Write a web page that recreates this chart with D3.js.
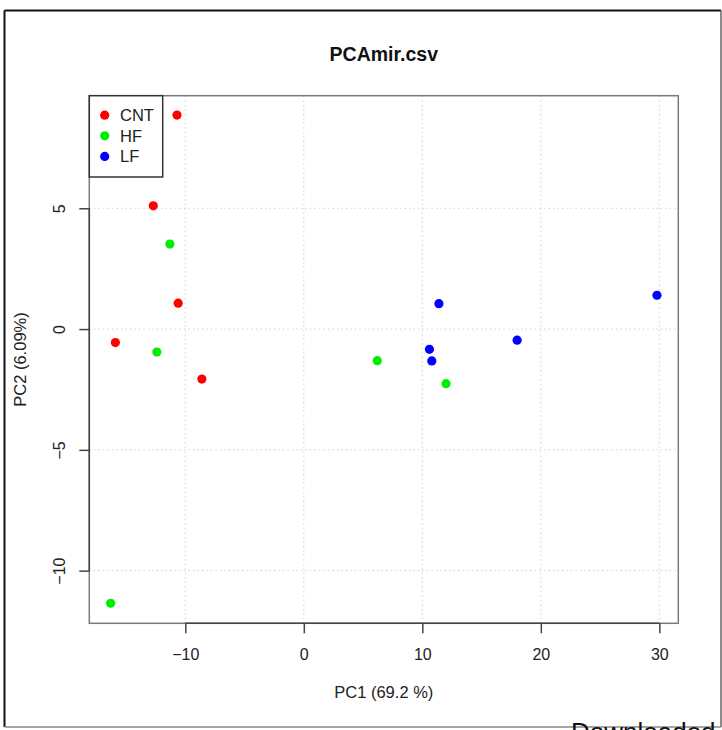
<!DOCTYPE html>
<html>
<head>
<meta charset="utf-8">
<script src="https://cdn.jsdelivr.net/npm/d3@7"></script>
<style>
  body { margin: 0; background: #fff; }
  svg text { font-family: "Liberation Sans", Arial, sans-serif; }
</style>
</head>
<body>
<div id="chart"></div>
<script>
// PCA scores, one array per group
var groups   = ['CNT', 'HF', 'LF'],
    colours  = ['#ff0000', '#00ee00', '#0000ff'];

var cntPC1 = [-10.7, -12.7, -10.6, -15.9, -8.6],
    cntPC2 = [8.86, 5.10, 1.07, -0.56, -2.07];

var hfPC1  = [-11.3, -12.4, 6.2, 12.0, -16.3],
    hfPC2  = [3.52, -0.95, -1.31, -2.26, -11.35];

var lfPC1  = [11.4, 29.8, 18.0, 10.6, 10.8],
    lfPC2  = [1.05, 1.40, -0.46, -0.84, -1.32];

var xTicks = [-10, 0, 10, 20, 30],
    yTicks = [-10, -5, 0, 5];

var title  = 'PCAmir.csv',
    xTitle = 'PC1 (69.2 %)',
    yTitle = 'PC2 (6.09%)';

var width  = 722,
    height = 730,
    box    = {left: 89.3, top: 95.7, right: 678.3, bottom: 623.3};

var svg = d3.select('#chart')
	.append('svg')
	.attr('width', width)
	.attr('height', height);

// outer frame of the figure
svg.append('line').attr('x1', 4.5).attr('x2', 4.5).attr('y1', 10.5).attr('y2', 727)
	.attr('stroke', '#111').attr('stroke-width', 2);
svg.append('line').attr('x1', 4.5).attr('x2', 721).attr('y1', 10.5).attr('y2', 10.5)
	.attr('stroke', '#111').attr('stroke-width', 2);
svg.append('line').attr('x1', 721).attr('x2', 721).attr('y1', 10.5).attr('y2', 727)
	.attr('stroke', '#666').attr('stroke-width', 1.5);
svg.append('line').attr('x1', 4.5).attr('x2', 721).attr('y1', 727).attr('y2', 727)
	.attr('stroke', '#888').attr('stroke-width', 1.5);

var x = d3.scaleLinear()
	.domain([-18.1, 31.6])
	.range([box.left, box.right]);

var y = d3.scaleLinear()
	.domain([-12.18, 9.66])
	.range([box.bottom, box.top]);

// dotted grid
var grid = svg.append('g')
	.attr('stroke', '#cfcfcf')
	.attr('stroke-width', 1)
	.attr('stroke-dasharray', '1.5,3');

grid.selectAll('line.v')
	.data(xTicks)
	.enter()
	.append('line')
	.attr('x1', function(d){ return x(d); })
	.attr('x2', function(d){ return x(d); })
	.attr('y1', box.top)
	.attr('y2', box.bottom);

grid.selectAll('line.h')
	.data(yTicks)
	.enter()
	.append('line')
	.attr('x1', box.left)
	.attr('x2', box.right)
	.attr('y1', function(d){ return y(d); })
	.attr('y2', function(d){ return y(d); });

// plot box
svg.append('rect')
	.attr('x', box.left)
	.attr('y', box.top)
	.attr('width', box.right - box.left)
	.attr('height', box.bottom - box.top)
	.attr('fill', 'none')
	.attr('stroke', '#7a7a7a')
	.attr('stroke-width', 1.5);

// axes, R style: line only between first and last tick
var xAxis = svg.append('g')
	.attr('transform', 'translate(0,' + box.bottom + ')')
	.call(d3.axisBottom(x).tickValues(xTicks).tickSize(10).tickPadding(15)
		.tickFormat(function(d){ return d < 0 ? '\u2212' + Math.abs(d) : d; }));

xAxis.select('.domain').remove();
xAxis.append('line')
	.attr('x1', x(xTicks[0]))
	.attr('x2', x(xTicks[xTicks.length - 1]))
	.attr('stroke', '#444')
	.attr('stroke-width', 1.5);

var yAxis = svg.append('g')
	.attr('transform', 'translate(' + box.left + ',0)')
	.call(d3.axisLeft(y).tickValues(yTicks).tickSize(10)
		.tickFormat(function(d){ return d < 0 ? '\u2212' + Math.abs(d) : d; }));

yAxis.select('.domain').remove();
yAxis.append('line')
	.attr('y1', y(yTicks[0]))
	.attr('y2', y(yTicks[yTicks.length - 1]))
	.attr('stroke', '#444')
	.attr('stroke-width', 1.5);

// y tick labels are rotated, as R does by default
yAxis.selectAll('.tick text')
	.attr('x', 0)
	.attr('dy', '0.35em')
	.attr('text-anchor', 'middle')
	.attr('transform', 'translate(-30,0) rotate(-90)');

svg.selectAll('.tick line')
	.attr('stroke', '#444')
	.attr('stroke-width', 1.5);

svg.selectAll('.tick text')
	.attr('fill', '#222')
	.style('font-size', '16px');

// titles
svg.append('text')
	.attr('x', (box.left + box.right) / 2)
	.attr('y', 61)
	.attr('text-anchor', 'middle')
	.style('font-size', '19.5px')
	.style('font-weight', 'bold')
	.attr('fill', '#111')
	.text(title);

svg.append('text')
	.attr('x', (box.left + box.right) / 2)
	.attr('y', 698)
	.attr('text-anchor', 'middle')
	.style('font-size', '16.5px')
	.attr('fill', '#222')
	.text(xTitle);

svg.append('text')
	.attr('transform', 'translate(26,' + (box.top + box.bottom) / 2 + ') rotate(-90)')
	.attr('text-anchor', 'middle')
	.style('font-size', '16.5px')
	.attr('fill', '#222')
	.text(yTitle);

// points
var series = [
	{pc1: cntPC1, pc2: cntPC2},
	{pc1: hfPC1,  pc2: hfPC2},
	{pc1: lfPC1,  pc2: lfPC2}
];

series.forEach(function(s, i){
	svg.append('g')
		.selectAll('circle')
		.data(d3.zip(s.pc1, s.pc2))
		.enter()
		.append('circle')
		.attr('cx', function(d){ return x(d[0]); })
		.attr('cy', function(d){ return y(d[1]); })
		.attr('r', 4.6)
		.attr('fill', colours[i]);
});

// legend in the top left corner
var legend = svg.append('g')
	.attr('transform', 'translate(' + box.left + ',' + box.top + ')');

legend.append('rect')
	.attr('width', 73.4)
	.attr('height', 81.3)
	.attr('fill', '#fff')
	.attr('stroke', '#333')
	.attr('stroke-width', 1.5);

var entry = legend.selectAll('g.entry')
	.data(groups)
	.enter()
	.append('g')
	.attr('class', 'entry')
	.attr('transform', function(d, i){ return 'translate(0,' + (19.5 + i * 20.6) + ')'; });

entry.append('circle')
	.attr('cx', 15.4)
	.attr('r', 4.6)
	.attr('fill', function(d, i){ return colours[i]; });

entry.append('text')
	.attr('x', 30.7)
	.attr('dy', '0.36em')
	.style('font-size', '16.5px')
	.attr('fill', '#222')
	.text(function(d){ return d; });

// caption cut off at the bottom of the picture
svg.append('text')
	.attr('x', 571)
	.attr('y', 741)
	.style('font-size', '26px')
	.attr('fill', '#111')
	.text('Downloaded');
</script>
</body>
</html>
